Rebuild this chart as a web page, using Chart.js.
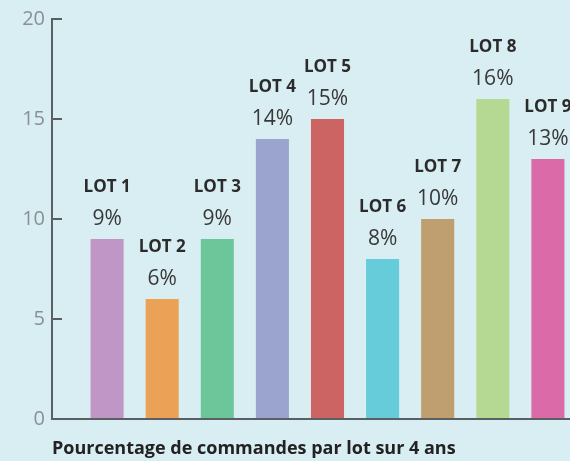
<!DOCTYPE html>
<html>
<head>
<meta charset="utf-8">
<script src="https://cdn.jsdelivr.net/npm/chart.js@4/dist/chart.umd.min.js"></script>
<style>
  html, body { margin: 0; padding: 0; background: #d8eef2; overflow: hidden; }
  #wrap { position: relative; width: 603px; height: 461px; }
</style>
</head>
<body>
<div id="wrap"><canvas id="c"></canvas></div>
<script>
const categories = ['', 'LOT 1', 'LOT 2', 'LOT 3', 'LOT 4', 'LOT 5', 'LOT 6', 'LOT 7', 'LOT 8', 'LOT 9', ''];
const values = [null, 9, 6, 9, 14, 15, 8, 10, 16, 13, null];
const percentLabels = ['', '9%', '6%', '9%', '14%', '15%', '8%', '10%', '16%', '13%', ''];
const barColors = ['#000000', '#c096c6', '#eba257', '#6cc69a', '#9aa4cf', '#cc6464', '#66ccd9', '#bf9e70', '#b5d993', '#db6aa8', '#000000'];
const yTicks = [0, 5, 10, 15, 20];
const xTitle = 'Pourcentage de commandes par lot sur 4 ans';

const labelPlugin = {
  id: 'barLabels',
  afterDatasetsDraw(chart) {
    const ctx = chart.ctx;
    const meta = chart.getDatasetMeta(0);
    ctx.save();
    ctx.textAlign = 'center';
    ctx.textBaseline = 'middle';
    meta.data.forEach((bar, i) => {
      if (values[i] == null) return;
      ctx.fillStyle = '#2b2b2b';
      ctx.font = 'bold 17px "Open Sans"';
      ctx.fillText(categories[i], bar.x, bar.y - 52);
      ctx.fillStyle = '#383838';
      ctx.font = '21px "Open Sans"';
      ctx.fillText(percentLabels[i], bar.x, bar.y - 20);
    });
    ctx.restore();
  }
};

new Chart(document.getElementById('c'), {
  type: 'bar',
  data: {
    labels: categories,
    datasets: [{
      data: values,
      backgroundColor: barColors,
      barPercentage: 1,
      categoryPercentage: 0.6,
      borderWidth: 0
    }]
  },
  options: {
    responsive: true,
    maintainAspectRatio: false,
    animation: false,
    layout: { padding: { top: 19, right: 0, bottom: 0, left: 0 } },
    plugins: { legend: { display: false }, tooltip: { enabled: false } },
    scales: {
      x: {
        offset: false,
        ticks: { display: false },
        grid: { display: false },
        border: { display: true, color: '#5a5f63', width: 2 },
        title: {
          display: true,
          text: xTitle,
          align: 'start',
          color: '#222222',
          font: { family: 'Open Sans', size: 18, weight: 'bold' },
          padding: { top: 0, bottom: 1 }
        },
        afterFit(s) { s.height = 42; s.paddingLeft = 0; s.paddingRight = 0; }
      },
      y: {
        min: 0,
        max: 20,
        afterBuildTicks(s) { s.ticks = yTicks.map(v => ({ value: v })); },
        ticks: {
          color: '#8a9094',
          padding: 17,
          font: { family: 'Open Sans', size: 20 }
        },
        grid: {
          drawOnChartArea: false,
          drawTicks: true,
          tickLength: -10,
          tickColor: '#5a5f63',
          lineWidth: 2
        },
        border: { display: true, color: '#5a5f63', width: 2 },
        afterFit(s) { s.width = 52; s.paddingTop = 0; s.paddingBottom = 0; }
      }
    }
  },
  plugins: [labelPlugin]
});
</script>
</body>
</html>
